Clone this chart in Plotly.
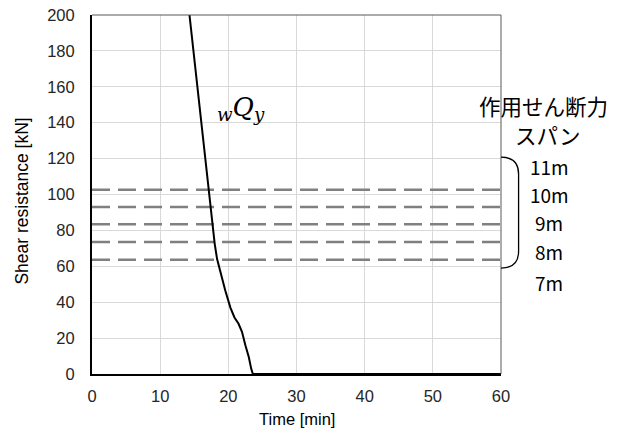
import plotly.graph_objects as go

# Shear resistance wQy versus fire exposure time
time_min = [14.3, 15.15, 16.0, 16.7, 17.25, 17.45, 17.7, 18.0, 18.35, 18.85, 19.55,
            20.3, 20.9, 21.5, 22.0, 22.5, 23.0, 23.35, 23.6, 60]
resistance_kn = [200, 170, 140, 117, 97, 91, 82, 72.5, 64, 56, 46.5,
                 37, 31.5, 28, 23.5, 16, 9.5, 3, 0, 0]

# Acting shear force for each span
spans = ["11m", "10m", "9m", "8m", "7m"]
acting_shear = [102.7, 93.0, 83.4, 73.5, 63.7]

x_ticks = [0, 10, 20, 30, 40, 50, 60]
y_ticks = [0, 20, 40, 60, 80, 100, 120, 140, 160, 180, 200]

fig = go.Figure()

for v in acting_shear:
    fig.add_trace(go.Scatter(
        x=[0, 60], y=[v, v], mode="lines",
        line=dict(color="#808080", width=2.5, dash="18px,8px"),
        hoverinfo="skip", showlegend=False))

fig.add_trace(go.Scatter(
    x=time_min, y=resistance_kn, mode="lines",
    line=dict(color="black", width=2), showlegend=False))

tick_font = dict(family="Liberation Sans, Arial, sans-serif", size=16.5, color="#262626")

fig.update_layout(
    width=625, height=435,
    margin=dict(l=92, r=124, t=15, b=61),
    paper_bgcolor="white", plot_bgcolor="white",
    xaxis=dict(range=[0, 60], tickvals=x_ticks, showgrid=True, gridcolor="#d9d9d9",
               gridwidth=1, zeroline=False, showline=True, linecolor="black",
               linewidth=2, ticks="", tickfont=tick_font, ticklabelstandoff=6,
               automargin=False),
    yaxis=dict(range=[0, 200], tickvals=y_ticks, showgrid=True, gridcolor="#d9d9d9",
               gridwidth=1, zeroline=False, showline=True, linecolor="black",
               linewidth=2, ticks="", tickfont=tick_font, ticklabelstandoff=12,
               automargin=False),
)

# Plot-area border on the top and right
fig.add_shape(type="line", xref="paper", yref="paper", x0=0, x1=1, y0=1, y1=1,
              line=dict(color="#595959", width=1))
fig.add_shape(type="line", xref="paper", yref="paper", x0=1, x1=1, y0=0, y1=1,
              line=dict(color="#595959", width=1))

# Bracket grouping the span lines
fig.add_shape(type="path", xref="paper", yref="paper",
              path="M 1.0,0.604 Q 1.043,0.604 1.043,0.557 L 1.043,0.342 "
                   "Q 1.043,0.295 1.0,0.295",
              line=dict(color="black", width=1.3))

title_font = dict(family="Liberation Sans, Arial, sans-serif", size=16.5, color="black")
fig.add_annotation(text="Time [min]", xref="paper", yref="paper", x=0.5, y=-0.125,
                   showarrow=False, font=title_font, xanchor="center", yanchor="middle")
fig.add_annotation(text="Shear resistance [kN]", xref="paper", yref="paper",
                   x=-0.172, y=0.482, textangle=-90, showarrow=False,
                   font=dict(family="Liberation Sans, Arial, sans-serif", size=17.5,
                             color="black"),
                   xanchor="center", yanchor="middle")

fig.add_annotation(text="<i><sub>w</sub>Q<sub>y</sub></i>", x=21.9, y=148,
                   showarrow=False, xanchor="center", yanchor="middle",
                   font=dict(family="DejaVu Serif, serif", size=26, color="black"))

jp_font = dict(family="Noto Sans CJK JP", size=21.5, color="black")
fig.add_annotation(text="作用せん断力", xref="paper", yref="paper", x=1.105, y=0.749,
                   showarrow=False, font=jp_font, xanchor="center", yanchor="middle")
fig.add_annotation(text="スパン", xref="paper", yref="paper", x=1.116, y=0.666,
                   showarrow=False, font=jp_font, xanchor="center", yanchor="middle")

span_y = [0.579, 0.501, 0.421, 0.340, 0.256]
for label, yp in zip(spans, span_y):
    fig.add_annotation(text=label, xref="paper", yref="paper", x=1.118, y=yp,
                       showarrow=False, xanchor="center", yanchor="middle",
                       font=dict(family="Noto Sans CJK JP", size=19, color="black"))

fig.write_html("out.html")
